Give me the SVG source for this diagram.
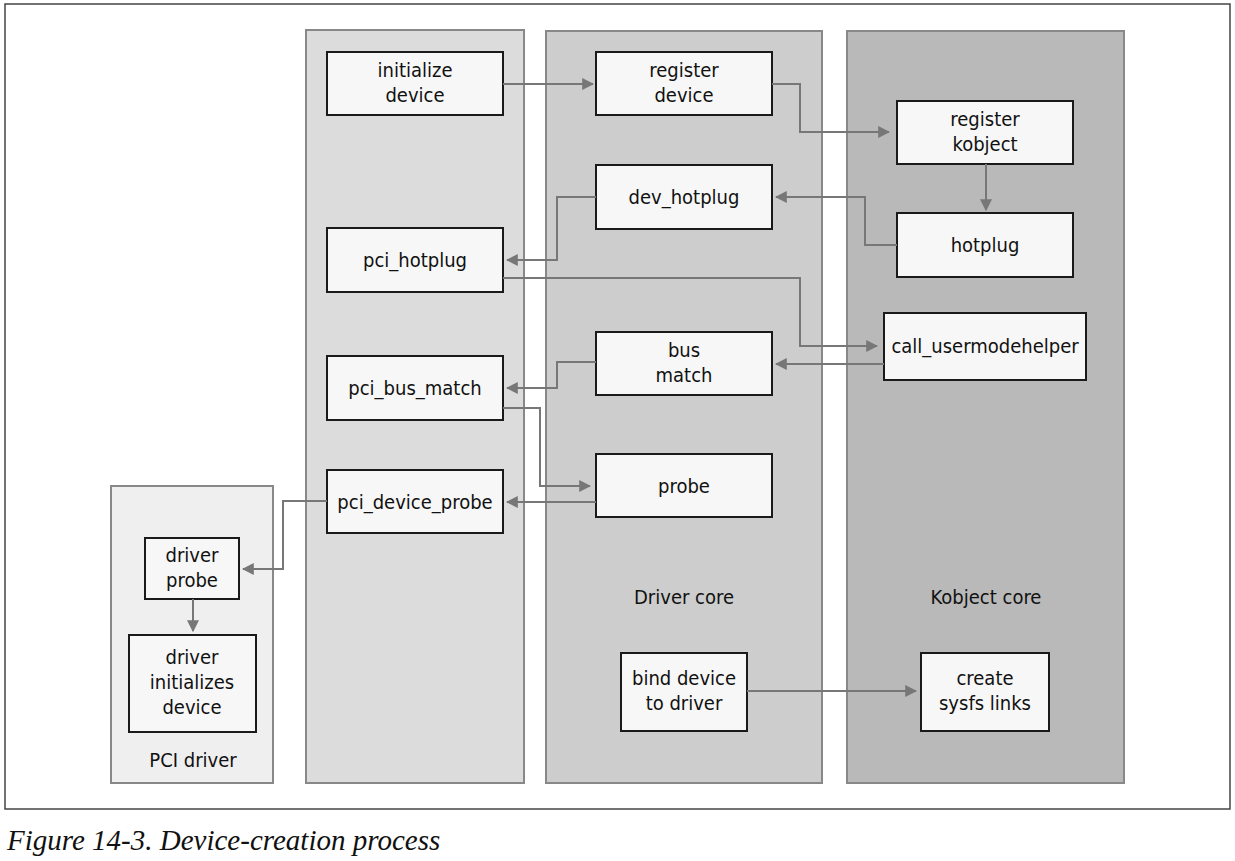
<svg xmlns="http://www.w3.org/2000/svg" width="1235" height="861" viewBox="0 0 1235 861">
<defs>
<marker id="ah" viewBox="0 0 10 10" refX="9" refY="5" markerWidth="12" markerHeight="12" markerUnits="userSpaceOnUse" orient="auto">
<path d="M0,0 L10,5 L0,10 z" fill="#777"/>
</marker>
<style>
.col{stroke:#888;stroke-width:2}
.n rect{fill:#f7f7f7;stroke:#1a1a1a;stroke-width:2}
text{font-family:"DejaVu Sans Condensed","Liberation Sans Narrow","Liberation Sans",sans-serif;font-stretch:condensed;font-size:20px;fill:#111;text-anchor:middle}
.c path{fill:none;stroke:#777;stroke-width:2;marker-end:url(#ah)}
.cap{font-family:"Liberation Serif",serif;font-style:italic;font-stretch:normal;font-size:29px;text-anchor:start;fill:#111}
</style>
</defs>
<rect x="0" y="0" width="1235" height="861" fill="#fff"/>
<rect x="5" y="4" width="1225" height="805" fill="#fff" stroke="#444" stroke-width="1.5"/>
<g id="lanes">
<rect class="col" x="306" y="30" width="218" height="753" fill="#dcdcdc"/>
<rect class="col" x="546" y="31" width="276" height="752" fill="#cdcdcd"/>
<rect class="col" x="847" y="31" width="277" height="752" fill="#b9b9b9"/>
<rect class="col" x="111" y="486" width="162" height="297" fill="#efefef"/>
<text x="684" y="604">Driver core</text>
<text x="986" y="604">Kobject core</text>
<text x="193" y="767">PCI driver</text>
</g>
<g id="n-init" class="n"><rect x="327" y="52" width="176" height="63"/><text x="415" y="77">initialize</text><text x="415" y="102">device</text></g>
<g id="n-regdev" class="n"><rect x="596" y="52" width="176" height="63"/><text x="684" y="77">register</text><text x="684" y="102">device</text></g>
<g id="n-regkobj" class="n"><rect x="897" y="101" width="176" height="63"/><text x="985" y="126">register</text><text x="985" y="151">kobject</text></g>
<g id="n-devhot" class="n"><rect x="596" y="165" width="176" height="64"/><text x="684" y="204">dev_hotplug</text></g>
<g id="n-hotplug" class="n"><rect x="897" y="213" width="176" height="64"/><text x="985" y="252">hotplug</text></g>
<g id="n-pcihot" class="n"><rect x="327" y="228" width="176" height="64"/><text x="415" y="267">pci_hotplug</text></g>
<g id="n-cum" class="n"><rect x="884" y="313" width="202" height="67"/><text x="985" y="353">call_usermodehelper</text></g>
<g id="n-busmatch" class="n"><rect x="596" y="332" width="176" height="63"/><text x="684" y="357">bus</text><text x="684" y="382">match</text></g>
<g id="n-pcibus" class="n"><rect x="327" y="356" width="176" height="64"/><text x="415" y="395">pci_bus_match</text></g>
<g id="n-probe" class="n"><rect x="596" y="454" width="176" height="63"/><text x="684" y="493">probe</text></g>
<g id="n-pcidev" class="n"><rect x="327" y="470" width="176" height="63"/><text x="415" y="509">pci_device_probe</text></g>
<g id="n-drvprobe" class="n"><rect x="145" y="538" width="94" height="61"/><text x="192" y="562">driver</text><text x="192" y="587">probe</text></g>
<g id="n-drvinit" class="n"><rect x="129" y="635" width="127" height="97"/><text x="192" y="664">driver</text><text x="192" y="689">initializes</text><text x="192" y="714">device</text></g>
<g id="n-bind" class="n"><rect x="621" y="653" width="126" height="78"/><text x="684" y="685">bind device</text><text x="684" y="710">to driver</text></g>
<g id="n-sysfs" class="n"><rect x="921" y="653" width="128" height="78"/><text x="985" y="685">create</text><text x="985" y="710">sysfs links</text></g>
<g id="connectors" class="c">
<path d="M503,84 H593"/>
<path d="M772,84 H800 V132 H889"/>
<path d="M986,164 V210"/>
<path d="M897,245 H865 V197 H776"/>
<path d="M596,197 H557 V260 H507"/>
<path d="M503,278 H800 V346 H877"/>
<path d="M884,364 H776"/>
<path d="M596,362 H557 V388 H507"/>
<path d="M503,408 H540 V486 H590"/>
<path d="M596,502 H507"/>
<path d="M327,501 H283 V569 H243"/>
<path d="M193,599 V631"/>
<path d="M747,691 H916"/>
</g>
<text class="cap" x="7" y="850">Figure 14-3. Device-creation process</text>
</svg>
